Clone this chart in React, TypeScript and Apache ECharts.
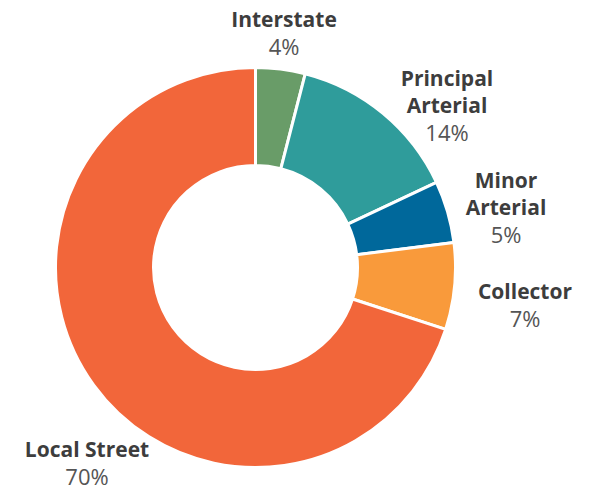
import React, { useEffect, useRef } from "react";
import * as echarts from "echarts";

const categories = ["Interstate", "Principal Arterial", "Minor Arterial", "Collector", "Local Street"];
const labelNames = ["Interstate", "Principal\nArterial", "Minor\nArterial", "Collector", "Local Street"];
const values = [4, 14, 5, 7, 70];
const colors = ["#699c68", "#2f9c9b", "#00689b", "#f99a3b", "#f2663a"];
// label anchor positions (center x, top y)
const labelPos = [
  [284, 5],
  [447, 64],
  [506, 166],
  [525, 277],
  [87, 435],
];

export default function App() {
  const ref = useRef<HTMLDivElement>(null);
  useEffect(() => {
    if (!ref.current) return;
    const chart = echarts.init(ref.current, null, { renderer: "svg" });
    chart.setOption({
      animation: false,
      backgroundColor: "#ffffff",
      series: [
        {
          type: "pie",
          center: [255.5, 267.5],
          radius: [102, 200],
          startAngle: 90,
          clockwise: true,
          avoidLabelOverlap: false,
          itemStyle: { borderColor: "#ffffff", borderWidth: 3 },
          labelLine: { show: false },
          label: {
            show: true,
            position: "outside",
            formatter: (p: any) => {
              const lines = labelNames[p.dataIndex].split("\n").map((l) => `{b|${l}}`);
              return lines.join("\n") + `\n{p|${p.value}%}`;
            },
            rich: {
              b: {
                fontFamily: "Open Sans",
                fontWeight: "bold",
                fontSize: 21,
                lineHeight: 27,
                color: "#3d3d3d",
                align: "center",
              },
              p: {
                fontFamily: "Open Sans",
                fontSize: 22,
                lineHeight: 27,
                color: "#555555",
                align: "center",
              },
            },
          },
          labelLayout: (params: any) => ({
            x: labelPos[params.dataIndex][0],
            y: labelPos[params.dataIndex][1],
            align: "center",
            verticalAlign: "top",
          }),
          data: categories.map((c, i) => ({
            name: c,
            value: values[i],
            itemStyle: { color: colors[i] },
          })),
        },
      ],
    });
    return () => chart.dispose();
  }, []);
  return <div ref={ref} style={{ width: 593, height: 485, position: "absolute", left: 0, top: 0 }} />;
}
